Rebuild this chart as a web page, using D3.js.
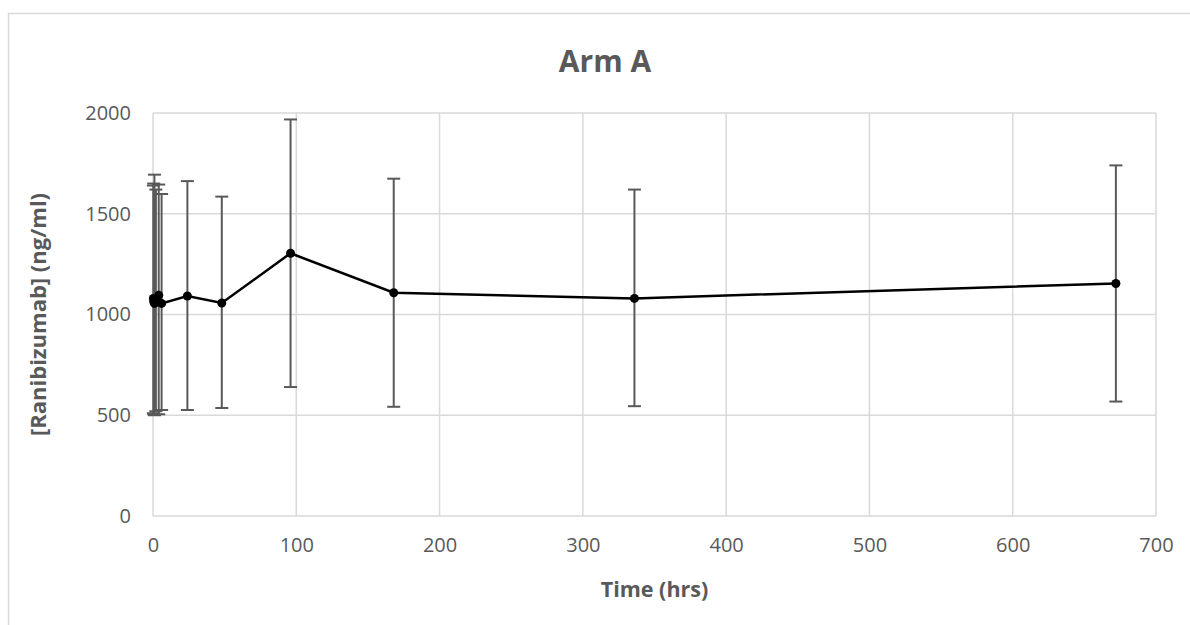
<!DOCTYPE html>
<html>
<head>
<meta charset="utf-8">
<script src="https://cdn.jsdelivr.net/npm/d3@7"></script>
<style>
  html, body { margin: 0; padding: 0; background: #fff; }
  svg { display: block; }
  text { font-family: "Open Sans", "Liberation Sans", sans-serif; }
</style>
</head>
<body>
<svg id="chart" width="1190" height="625"></svg>
<script>
const times   = [0.25, 0.5, 1, 2, 4, 6, 24, 48, 96, 168, 336, 672];
const means   = [1080, 1065, 1055, 1060, 1095, 1055, 1092, 1057, 1304, 1108, 1080, 1154];
const upper   = [1640, 1650, 1694, 1620, 1645, 1598, 1662, 1585, 1968, 1674, 1620, 1740];
const lower   = [510, 505, 500, 520, 505, 526, 526, 536, 640, 542, 545, 568];
const xTicks  = [0, 100, 200, 300, 400, 500, 600, 700];
const yTicks  = [0, 500, 1000, 1500, 2000];
const title   = "Arm A";
const xLabel  = "Time (hrs)";
const yLabel  = "[Ranibizumab] (ng/ml)";

const svg = d3.select("#chart");
const L = 153, R = 1156, T = 113, B = 516;
const x = d3.scaleLinear().domain([0, 700]).range([L, R]);
const y = d3.scaleLinear().domain([0, 2000]).range([B, T]);
const grid = "#d9d9d9";
const txt = "#595959";

// outer chart border
svg.append("rect").attr("x", 8.5).attr("y", 13.5).attr("width", 1300).attr("height", 800)
  .attr("fill", "none").attr("stroke", grid).attr("stroke-width", 1.5);

// gridlines
svg.append("g").selectAll("line").data(yTicks).join("line")
  .attr("x1", L).attr("x2", R).attr("y1", d => y(d)).attr("y2", d => y(d))
  .attr("stroke", grid).attr("stroke-width", 1.5);
svg.append("g").selectAll("line").data(xTicks).join("line")
  .attr("y1", T).attr("y2", B).attr("x1", d => x(d)).attr("x2", d => x(d))
  .attr("stroke", grid).attr("stroke-width", 1.5);

// axes tick labels via d3 axes
const xAxis = svg.append("g").attr("transform", `translate(0,${B})`)
  .call(d3.axisBottom(x).tickValues(xTicks).tickFormat(d3.format("d")).tickSize(0).tickPadding(22));
xAxis.select(".domain").remove();
xAxis.selectAll("text").attr("fill", txt).attr("font-size", 20)
  .attr("font-family", "'Open Sans', sans-serif");

const yAxis = svg.append("g").attr("transform", `translate(${L},0)`)
  .call(d3.axisLeft(y).tickValues(yTicks).tickFormat(d3.format("d")).tickSize(0).tickPadding(22));
yAxis.select(".domain").remove();
yAxis.selectAll("text").attr("fill", txt).attr("font-size", 20)
  .attr("font-family", "'Open Sans', sans-serif");

// error bars
const data = times.map((t, i) => ({t, m: means[i], hi: upper[i], lo: lower[i]}));
const eb = svg.append("g").attr("stroke", "#595959").attr("stroke-width", 2);
eb.selectAll("line.v").data(data).join("line").attr("class", "v")
  .attr("x1", d => x(d.t)).attr("x2", d => x(d.t))
  .attr("y1", d => y(d.hi)).attr("y2", d => y(d.lo));
eb.selectAll("line.hi").data(data).join("line").attr("class", "hi")
  .attr("x1", d => x(d.t) - 6.5).attr("x2", d => x(d.t) + 6.5)
  .attr("y1", d => y(d.hi)).attr("y2", d => y(d.hi));
eb.selectAll("line.lo").data(data).join("line").attr("class", "lo")
  .attr("x1", d => x(d.t) - 6.5).attr("x2", d => x(d.t) + 6.5)
  .attr("y1", d => y(d.lo)).attr("y2", d => y(d.lo));

// line
svg.append("path").datum(data)
  .attr("fill", "none").attr("stroke", "#000").attr("stroke-width", 2.5)
  .attr("d", d3.line().x(d => x(d.t)).y(d => y(d.m)));

// markers
svg.append("g").selectAll("circle").data(data).join("circle")
  .attr("cx", d => x(d.t)).attr("cy", d => y(d.m)).attr("r", 4.5).attr("fill", "#000");

// titles
svg.append("text").attr("x", 605).attr("y", 72).attr("text-anchor", "middle")
  .attr("font-size", 30).attr("font-weight", "bold").attr("fill", txt).text(title);
svg.append("text").attr("x", (L + R) / 2).attr("y", 597).attr("text-anchor", "middle")
  .attr("font-size", 21.5).attr("font-weight", "bold").attr("fill", txt).text(xLabel);
svg.append("text").attr("transform", `translate(46,${(T + B) / 2}) rotate(-90)`)
  .attr("text-anchor", "middle")
  .attr("font-size", 22).attr("font-weight", "bold").attr("fill", txt).text(yLabel);
</script>
</body>
</html>
